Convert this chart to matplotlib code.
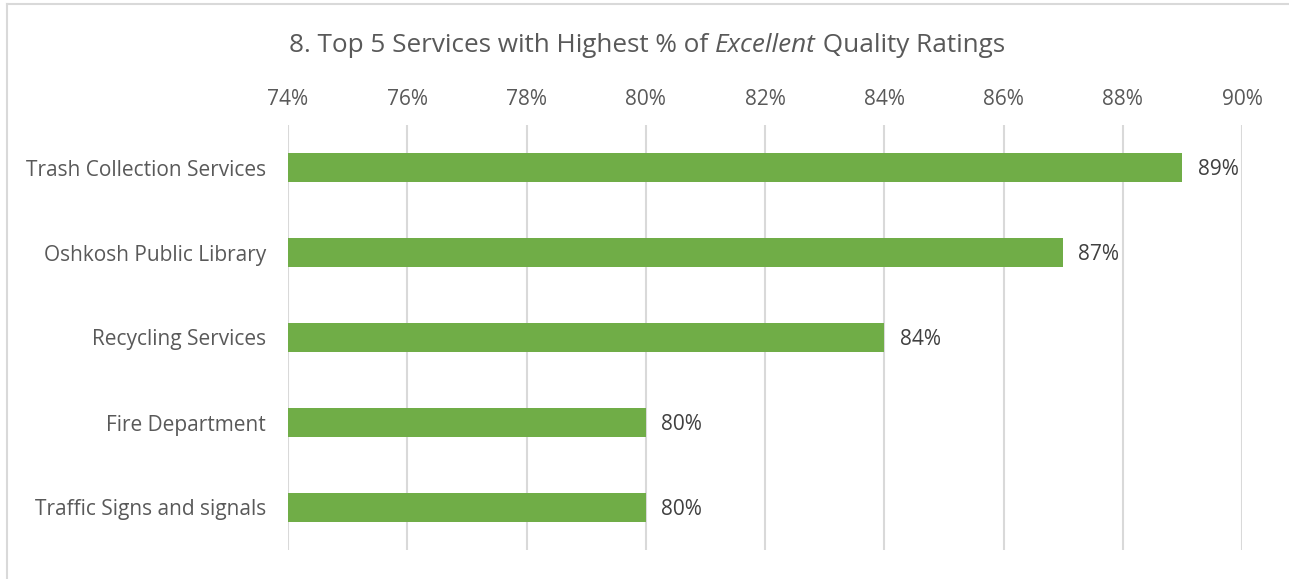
import matplotlib.pyplot as plt
from matplotlib.lines import Line2D

services = ["Trash Collection Services", "Oshkosh Public Library", "Recycling Services",
            "Fire Department", "Traffic Signs and signals"]
excellent = [89, 87, 84, 80, 80]
xticks = [74, 76, 78, 80, 82, 84, 86, 88, 90]

plt.rcParams['font.family'] = ['Open Sans', 'DejaVu Sans']

fig = plt.figure(figsize=(12.89, 5.79), dpi=100)
ax = fig.add_axes([288 / 1289, 1 - 550 / 579, 954 / 1289, 425 / 579])

y = list(range(len(services)))
ax.barh(y, [v - 74 for v in excellent], left=74, height=0.35, color='#70AD47', zorder=3)
for yi, v in zip(y, excellent):
    ax.annotate(f"{v}%", (v, yi), xytext=(11, -1.5), textcoords='offset points',
                va='center', ha='left', fontsize=15, color='#404040')

ax.set_xlim(74, 90)
ax.set_ylim(len(services) - 0.5, -0.5)
ax.set_xticks(xticks)
ax.set_xticklabels([f"{t}%" for t in xticks], fontsize=15, color='#595959')
ax.xaxis.tick_top()
ax.set_yticks(y)
ax.set_yticklabels(services, fontsize=15, color='#595959')
ax.tick_params(length=0, pad=16)
ax.tick_params(axis='x', pad=11)
ax.grid(axis='x', color='#D9D9D9', linewidth=1.5, zorder=0)
for s in ax.spines.values():
    s.set_visible(False)

# chart border, only the top and left edges show
fig.add_artist(Line2D([7 / 1289, 1], [1 - 4 / 579, 1 - 4 / 579], transform=fig.transFigure,
                      color='#D9D9D9', linewidth=1.5))
fig.add_artist(Line2D([7 / 1289, 7 / 1289], [0, 1 - 4 / 579], transform=fig.transFigure,
                      color='#D9D9D9', linewidth=1.5))

# title with the italic word, laid out piece by piece
parts = [("8. Top 5 Services with Highest % of ", 'normal'), ("Excellent", 'italic'),
         (" Quality Ratings", 'normal')]
texts = [fig.text(0, 1 - 46 / 579, p, style=st, fontsize=18.8, color='#595959', va='center')
         for p, st in parts]
fig.canvas.draw()
r = fig.canvas.get_renderer()
widths = [t.get_window_extent(r).width for t in texts]
x0 = 647 - sum(widths) / 2
for t, w in zip(texts, widths):
    t.set_x(x0 / 1289)
    x0 += w

fig.savefig("out.png", dpi=100)
